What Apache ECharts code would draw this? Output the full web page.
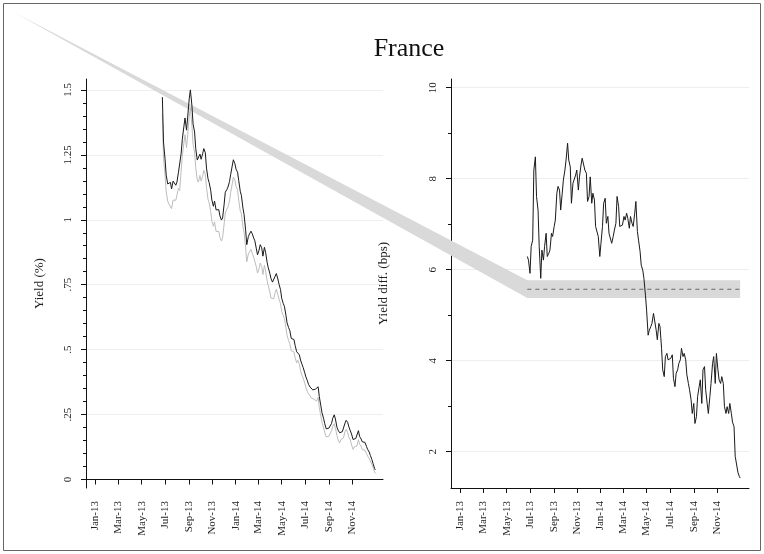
<!DOCTYPE html>
<html><head><meta charset="utf-8">
<script src="https://cdn.jsdelivr.net/npm/echarts@6/dist/echarts.min.js"></script>
<style>html,body{margin:0;padding:0;background:#fff}#chart{width:764px;height:554px}</style>
</head><body><div id="chart"></div>
<script>
const dates = [
'2013-06-24','2013-06-27','2013-07-01','2013-07-04','2013-07-08','2013-07-11','2013-07-15','2013-07-18','2013-07-22','2013-07-25',
'2013-07-29','2013-08-01','2013-08-05','2013-08-08','2013-08-12','2013-08-15','2013-08-19','2013-08-22','2013-08-26','2013-08-29',
'2013-09-02','2013-09-05','2013-09-09','2013-09-12','2013-09-16','2013-09-19','2013-09-23','2013-09-26','2013-09-30','2013-10-03',
'2013-10-07','2013-10-10','2013-10-14','2013-10-17','2013-10-21','2013-10-24','2013-10-28','2013-10-31','2013-11-04','2013-11-07',
'2013-11-11','2013-11-14','2013-11-18','2013-11-21','2013-11-25','2013-11-28','2013-12-02','2013-12-05','2013-12-09','2013-12-12',
'2013-12-16','2013-12-19','2013-12-23','2013-12-26','2013-12-30','2014-01-02','2014-01-06','2014-01-09','2014-01-13','2014-01-16',
'2014-01-20','2014-01-23','2014-01-27','2014-01-30','2014-02-03','2014-02-06','2014-02-10','2014-02-13','2014-02-17','2014-02-20',
'2014-02-24','2014-02-27','2014-03-03','2014-03-06','2014-03-10','2014-03-13','2014-03-17','2014-03-20','2014-03-24','2014-03-27',
'2014-03-31','2014-04-03','2014-04-07','2014-04-10','2014-04-14','2014-04-17','2014-04-21','2014-04-24','2014-04-28','2014-05-01',
'2014-05-05','2014-05-08','2014-05-12','2014-05-15','2014-05-19','2014-05-22','2014-05-26','2014-05-29','2014-06-02','2014-06-05',
'2014-06-09','2014-06-12','2014-06-16','2014-06-19','2014-06-23','2014-06-26','2014-06-30','2014-07-03','2014-07-07','2014-07-10',
'2014-07-14','2014-07-17','2014-07-21','2014-07-24','2014-07-28','2014-07-31','2014-08-04','2014-08-07','2014-08-11','2014-08-14',
'2014-08-18','2014-08-21','2014-08-25','2014-08-28','2014-09-01','2014-09-04','2014-09-08','2014-09-11','2014-09-15','2014-09-18',
'2014-09-22','2014-09-25','2014-09-29','2014-10-02','2014-10-06','2014-10-09','2014-10-13','2014-10-16','2014-10-20','2014-10-23',
'2014-10-27','2014-10-30','2014-11-03','2014-11-06','2014-11-10','2014-11-13','2014-11-17','2014-11-20','2014-11-24','2014-11-27',
'2014-12-01','2014-12-04','2014-12-08','2014-12-11','2014-12-15','2014-12-18','2014-12-22','2014-12-25','2014-12-29','2014-12-31'];

const yieldBlack = [
1.472,1.299,1.234,1.172,1.138,1.143,1.144,1.119,1.149,1.143,
1.133,1.145,1.183,1.178,1.256,1.310,1.358,1.392,1.345,1.395,
1.466,1.500,1.440,1.369,1.338,1.274,1.230,1.225,1.253,1.233,
1.254,1.274,1.258,1.199,1.158,1.143,1.113,1.076,1.052,1.072,
1.038,1.036,1.039,1.015,0.999,1.007,1.060,1.106,1.116,1.126,
1.147,1.174,1.207,1.231,1.216,1.195,1.183,1.151,1.110,1.093,
1.045,1.020,0.960,0.904,0.935,0.945,0.956,0.947,0.930,0.919,
0.888,0.865,0.883,0.904,0.892,0.860,0.894,0.875,0.836,0.815,
0.794,0.774,0.760,0.763,0.783,0.793,0.772,0.752,0.731,0.698,
0.678,0.667,0.633,0.603,0.585,0.574,0.543,0.544,0.539,0.516,
0.492,0.497,0.480,0.460,0.443,0.431,0.411,0.395,0.380,0.366,
0.356,0.351,0.345,0.348,0.348,0.345,0.357,0.319,0.284,0.257,
0.236,0.216,0.195,0.198,0.198,0.195,0.216,0.236,0.249,0.233,
0.201,0.190,0.180,0.187,0.184,0.188,0.217,0.228,0.220,0.203,
0.187,0.175,0.154,0.161,0.158,0.165,0.188,0.166,0.156,0.145,
0.140,0.143,0.127,0.116,0.106,0.093,0.077,0.062,0.043,0.037];

const yieldGray = [
1.409,1.237,1.175,1.107,1.072,1.061,1.059,1.043,1.076,1.078,
1.075,1.081,1.121,1.113,1.188,1.247,1.294,1.328,1.277,1.328,
1.397,1.429,1.363,1.291,1.261,1.201,1.153,1.145,1.171,1.149,
1.166,1.190,1.175,1.124,1.079,1.064,1.032,0.994,0.975,0.992,
0.955,0.952,0.955,0.933,0.918,0.932,0.984,1.026,1.041,1.049,
1.072,1.105,1.138,1.164,1.153,1.129,1.114,1.076,1.034,1.023,
0.973,0.952,0.892,0.838,0.868,0.876,0.886,0.871,0.856,0.850,
0.818,0.795,0.811,0.833,0.820,0.789,0.825,0.803,0.766,0.746,
0.722,0.699,0.692,0.696,0.719,0.732,0.712,0.694,0.677,0.647,
0.632,0.620,0.585,0.555,0.535,0.523,0.496,0.499,0.491,0.469,
0.449,0.459,0.444,0.419,0.401,0.391,0.371,0.355,0.339,0.330,
0.322,0.314,0.307,0.309,0.308,0.302,0.316,0.277,0.244,0.220,
0.201,0.182,0.164,0.170,0.167,0.169,0.188,0.204,0.215,0.197,
0.170,0.152,0.141,0.153,0.153,0.160,0.185,0.193,0.181,0.162,
0.152,0.133,0.116,0.125,0.123,0.129,0.153,0.136,0.128,0.115,
0.112,0.112,0.099,0.090,0.081,0.074,0.058,0.047,0.029,0.023];

const yieldDiff = [
6.29,6.21,5.92,6.51,6.65,8.19,8.48,7.61,7.31,6.51,
5.81,6.43,6.21,6.51,6.80,6.29,6.36,6.43,6.80,6.73,
6.95,7.09,7.68,7.83,7.75,7.31,7.68,7.97,8.19,8.41,
8.78,8.41,8.26,7.46,7.90,7.90,8.08,8.19,7.75,8.04,
8.30,8.45,8.45,8.19,8.12,7.50,7.61,8.04,7.46,7.68,
7.53,6.95,6.95,6.73,6.29,6.58,6.95,7.46,7.57,7.02,
7.17,6.80,6.84,6.58,6.73,6.87,7.02,7.61,7.39,6.95,
6.98,6.98,7.17,7.09,7.24,7.13,6.91,7.17,7.02,6.95,
7.24,7.50,6.84,6.65,6.40,6.10,5.99,5.81,5.44,5.11,
4.56,4.67,4.75,4.82,5.04,5.08,4.67,4.46,4.82,4.75,
4.27,3.80,3.65,4.09,4.16,4.02,4.02,4.05,4.13,3.61,
3.43,3.72,3.80,3.94,4.02,4.27,4.09,4.16,4.02,3.69,
3.50,3.36,3.14,2.84,3.06,2.62,2.77,3.21,3.43,3.58,
3.06,3.80,3.87,3.36,3.06,2.84,3.21,3.50,3.94,4.09,
3.50,4.16,3.80,3.58,3.50,3.65,3.50,2.99,2.84,2.99,
2.84,3.06,2.84,2.65,2.55,1.90,1.86,1.55,1.45,1.42];

const diffMean = 5.57;
const bandDates = ['2009-10-24', '2013-06-24', '2014-12-31'];
const bandLow = [11.66, 5.38, 5.38];
const bandHigh = [11.66, 5.77, 5.77];
const meanDates = ['2013-06-24', '2014-12-31'];

const xTickDates = ['2013-01-01','2013-03-01','2013-05-01','2013-07-01','2013-09-01','2013-11-01',
                    '2014-01-01','2014-03-01','2014-05-01','2014-07-01','2014-09-01','2014-11-01'];
const xTickLabels = ['Jan-13','Mar-13','May-13','Jul-13','Sep-13','Nov-13',
                     'Jan-14','Mar-14','May-14','Jul-14','Sep-14','Nov-14'];
const leftTicks = [0, 0.25, 0.5, 0.75, 1, 1.25, 1.5];
const leftTickLabels = ['0', '.25', '.5', '.75', '1', '1.25', '1.5'];
const leftMinorTicks = [0.05,0.1,0.15,0.2,0.3,0.35,0.4,0.45,0.55,0.6,0.65,0.7,0.8,0.85,0.9,0.95,1.05,1.1,1.15,1.2,1.3,1.35,1.4,1.45];
const rightTicks = [2, 4, 6, 8, 10];
const rightTickLabels = ['2', '4', '6', '8', '10'];
const rightMinorTicks = [3, 5, 7, 9];

const FONT = '"Liberation Serif", "Times New Roman", serif';
const chart = echarts.init(document.getElementById('chart'), null, {renderer: 'canvas'});
const ts = s => echarts.time.parse(s).getTime();
const xTickTs = xTickDates.map(ts);
function xFmt(v) {
  for (let i = 0; i < xTickTs.length; i++) if (Math.abs(xTickTs[i] - v) < 43200000) return xTickLabels[i];
  return '';
}
function mkFmt(ticks, labels) {
  return v => { const i = ticks.findIndex(t => Math.abs(t - v) < 1e-6); return i >= 0 ? labels[i] : ''; };
}
function xAxis(gridIndex, max) {
  return {
    type: 'value', gridIndex, min: ts('2012-12-07'), max: ts(max), scale: true,
    axisLine: {show: true, lineStyle: {color: '#111', width: 1}},
    axisTick: {show: true, customValues: xTickTs, length: 5, lineStyle: {color: '#111'}},
    axisLabel: {customValues: xTickTs, rotate: 90, margin: 13, fontFamily: FONT, fontSize: 11,
                color: '#222', formatter: xFmt},
    splitLine: {show: false}, minorTick: {show: false}
  };
}
function yAxis(gridIndex, min, max, ticks, labels, name, nameGap) {
  return {
    type: 'value', gridIndex, position: 'left', min, max,
    axisLine: {show: true, lineStyle: {color: '#111', width: 1}},
    axisTick: {show: true, customValues: ticks, length: 5, lineStyle: {color: '#111'}},
    axisLabel: {customValues: ticks, rotate: 90, margin: 12, fontFamily: FONT, fontSize: 11,
                color: '#222', formatter: mkFmt(ticks, labels)},
    splitLine: {show: true, lineStyle: {color: '#eeeeee', width: 1}},
    name, nameLocation: 'middle', nameGap, nameRotate: 90,
    nameTextStyle: {fontFamily: FONT, fontSize: 13, color: '#222'}
  };
}
function yMinor(gridIndex, min, max, ticks) {
  return {
    type: 'value', gridIndex, position: 'left', min, max,
    axisLine: {show: false},
    axisTick: {show: true, customValues: ticks, length: 3, lineStyle: {color: '#111'}},
    axisLabel: {show: false}, splitLine: {show: false}
  };
}

const option = {
  animation: false,
  backgroundColor: '#fff',
  title: {text: 'France', left: 404, top: 31, textAlign: 'center',
          textStyle: {fontFamily: FONT, fontSize: 26, fontWeight: 'normal', color: '#111'}},
  graphic: [{type: 'rect', shape: {x: 3.5, y: 3.5, width: 757, height: 547},
             style: {fill: 'none', stroke: '#666', lineWidth: 1}, silent: true}],
  grid: [
    {left: 86, right: 381, top: 79, bottom: 66, containLabel: false},
    {left: 451, right: 15, top: 79, bottom: 66, containLabel: false}
  ],
  xAxis: [xAxis(0, '2015-01-20'), xAxis(1, '2015-01-23')],
  yAxis: [
    yAxis(0, -0.0327, 1.542, leftTicks, leftTickLabels, 'Yield (%)', 40),
    yAxis(1, 1.202, 10.191, rightTicks, rightTickLabels, 'Yield diff. (bps)', 61),
    yMinor(0, -0.0327, 1.542, leftMinorTicks),
    yMinor(1, 1.202, 10.191, rightMinorTicks)
  ],
  series: [
    {type: 'custom', name: 'band', xAxisIndex: 1, yAxisIndex: 1, clip: false, silent: true, z: 1,
     encode: {x: 0, y: [1, 2]},
     data: bandDates.map((d, i) => [ts(d), bandLow[i], bandHigh[i]]),
     renderItem: function (params, api) {
       if (params.dataIndex !== 0) return null;
       const n = params.dataInsideLength;
       const top = [], bot = [];
       for (let i = 0; i < n; i++) {
         top.push(api.coord([api.value(0, i), api.value(2, i)]));
         bot.push(api.coord([api.value(0, i), api.value(1, i)]));
       }
       return {type: 'polygon', shape: {points: top.concat(bot.reverse())},
               style: {fill: '#d9d9d9', stroke: null}};
     }},
    {type: 'line', name: 'mean', xAxisIndex: 1, yAxisIndex: 1, symbol: 'none', z: 2,
     lineStyle: {color: '#666', width: 1, type: [4, 4]},
     data: meanDates.map(d => [ts(d), diffMean])},
    {type: 'line', name: 'diff', xAxisIndex: 1, yAxisIndex: 1, symbol: 'none', z: 3,
     lineStyle: {color: '#1a1a1a', width: 1},
     data: dates.map((d, i) => [ts(d), yieldDiff[i]])},
    {type: 'line', name: 'gray', xAxisIndex: 0, yAxisIndex: 0, symbol: 'none', z: 3,
     lineStyle: {color: '#bdbdbd', width: 1},
     data: dates.map((d, i) => [ts(d), yieldGray[i]])},
    {type: 'line', name: 'black', xAxisIndex: 0, yAxisIndex: 0, symbol: 'none', z: 4,
     lineStyle: {color: '#1a1a1a', width: 1},
     data: dates.map((d, i) => [ts(d), yieldBlack[i]])}
  ]
};
chart.setOption(option);
</script></body></html>
